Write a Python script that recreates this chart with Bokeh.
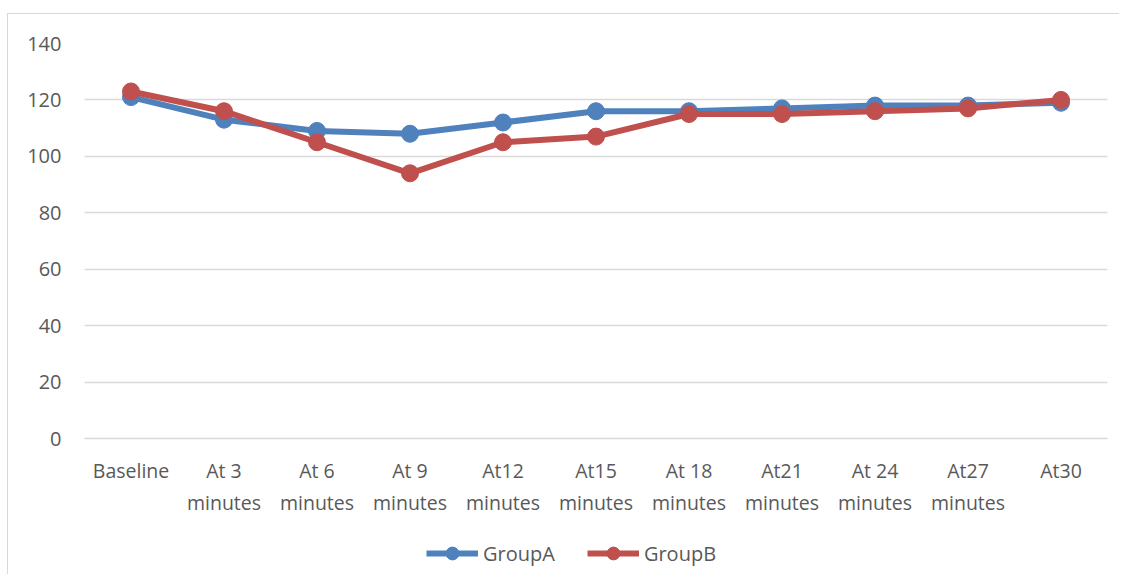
from bokeh.plotting import figure
from bokeh.layouts import column
from bokeh.models import FactorRange, Range1d, Legend, LegendItem
from bokeh.embed import file_html
from bokeh.resources import INLINE

categories = ["Baseline", "At 3\nminutes", "At 6\nminutes", "At 9\nminutes", "At12\nminutes",
              "At15\nminutes", "At 18\nminutes", "At21\nminutes", "At 24\nminutes",
              "At27\nminutes", "At30"]
group_a = [121, 113, 109, 108, 112, 116, 116, 117, 118, 118, 119]
group_b = [123, 116, 105, 94, 105, 107, 115, 115, 116, 117, 120]
y_ticks = [0, 20, 40, 60, 80, 100, 120, 140]
series_names = ["GroupA", "GroupB"]

FONT = "Open Sans"
TXT = "#595959"
GRID = "#d9d9d9"
BLUE = "#4f81bd"
RED = "#c0504d"

x_range = FactorRange(*categories, range_padding=0)

p = figure(width=1111, height=504, output_backend="svg", toolbar_location=None,
           x_range=x_range, y_range=Range1d(0, 140),
           min_border_left=76, min_border_right=12, min_border_top=29, min_border_bottom=80)
p.outline_line_color = None
p.background_fill_color = "white"
p.border_fill_color = "white"

p.xgrid.grid_line_color = None
p.ygrid.grid_line_color = GRID
p.ygrid.grid_line_width = 1.5
p.yaxis.ticker = y_ticks

p.yaxis.axis_line_color = None
p.yaxis.major_tick_line_color = None
p.yaxis.minor_tick_line_color = None
p.yaxis.major_label_standoff = 17
p.yaxis.major_label_text_font_size = "20px"
p.xaxis.axis_line_color = GRID
p.xaxis.axis_line_width = 1.5
p.xaxis.major_tick_line_color = None
p.xaxis.major_tick_out = 0
p.xaxis.major_label_standoff = 18
p.xaxis.major_label_text_font_size = "19.5px"
for ax in (p.xaxis, p.yaxis):
    ax.major_label_text_font = FONT
    ax.major_label_text_color = TXT
p.xaxis.major_label_text_line_height = 1.2

p.line(categories, group_a, line_color=BLUE, line_width=6)
p.scatter(categories, group_a, size=17, fill_color=BLUE, line_color=BLUE)
p.line(categories, group_b, line_color=RED, line_width=6)
p.scatter(categories, group_b, size=17, fill_color=RED, line_color=RED)

# legend strip below the chart: same series, drawn out of its (tiny) view range
q = figure(width=1111, height=56, output_backend="svg", toolbar_location=None,
           x_range=x_range, y_range=Range1d(0, 1),
           x_axis_location=None, y_axis_location=None,
           min_border_left=76, min_border_right=12, min_border_top=0, min_border_bottom=0)
q.outline_line_color = None
q.grid.visible = False
qa_l = q.line(categories, group_a, line_color=BLUE, line_width=6)
qa_s = q.scatter(categories, group_a, size=17, fill_color=BLUE, line_color=BLUE)
qb_l = q.line(categories, group_b, line_color=RED, line_width=6)
qb_s = q.scatter(categories, group_b, size=17, fill_color=RED, line_color=RED)
legend = Legend(items=[LegendItem(label=series_names[0], renderers=[qa_l, qa_s]),
                       LegendItem(label=series_names[1], renderers=[qb_l, qb_s])],
                orientation="horizontal", location=(342, 5),
                glyph_width=52, glyph_height=32, label_height=32, label_standoff=5,
                spacing=32, padding=0, margin=0,
                border_line_color=None, background_fill_alpha=0,
                label_text_font=FONT, label_text_font_size="20px", label_text_color=TXT)
q.add_layout(legend, "center")

layout = column(p, q, spacing=0)
layout.styles = {"margin": "13px 0px 0px 7px", "border-top": "1px solid #d9d9d9",
                 "border-left": "1px solid #d9d9d9"}

open("out.html", "w").write(file_html(layout, INLINE))
